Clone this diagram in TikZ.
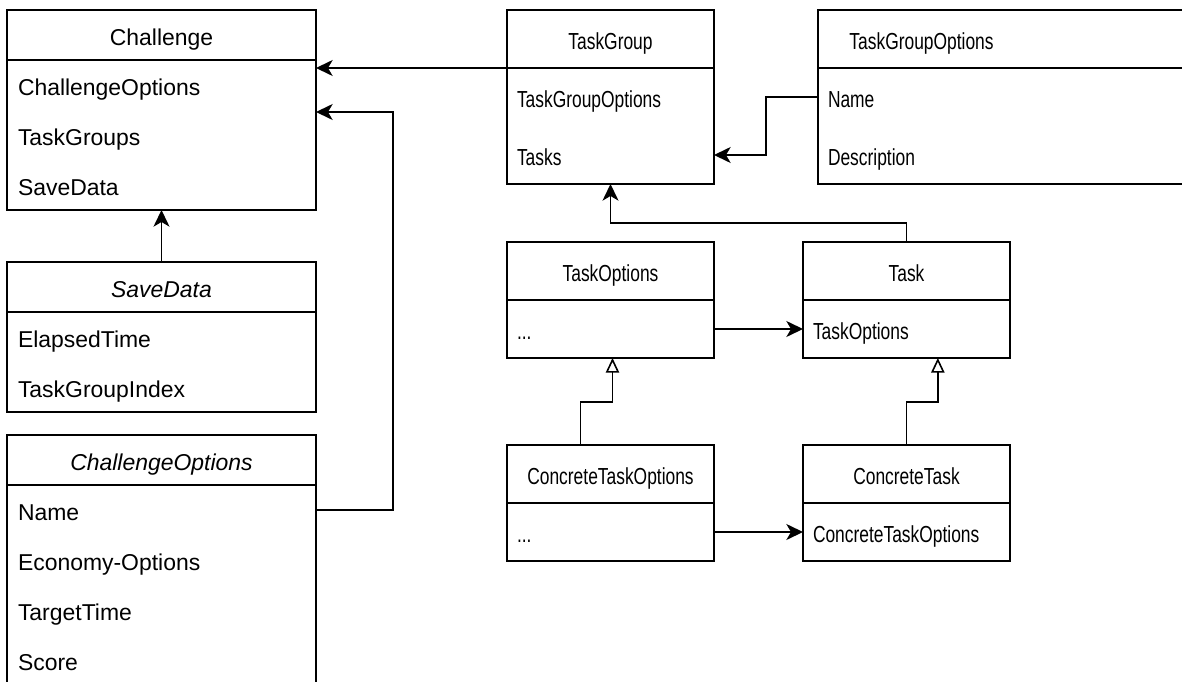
\documentclass[tikz,border=0pt]{standalone}
\usepackage{fontspec}
\setmainfont{Liberation Sans}
\newfontfamily\narrowsans[FakeStretch=0.75]{Liberation Sans}
\usetikzlibrary{arrows.meta,positioning,calc}
\newcommand{\leftfont}{\fontsize{17.2}{20}\selectfont}
\newcommand{\rightfont}{\narrowsans\fontsize{17.4}{21}\selectfont}
\tikzset{
  lhead/.style={rectangle, draw=black, line width=1.5pt, outer sep=0pt,
                minimum width=231.75pt, minimum height=37.5pt,
                text height=15pt, text depth=0pt,
                inner sep=0pt, font=\leftfont},
  lrow/.style={rectangle, text width=215.25pt, inner xsep=8.25pt,
               inner ysep=0pt, outer sep=0pt, minimum height=37.5pt,
               text height=15pt, text depth=0pt,
               align=left, font=\leftfont},
  rhead/.style={rectangle, draw=black, line width=1.5pt, outer sep=0pt,
                minimum width=155.25pt, minimum height=43.5pt,
                text height=15.5pt, text depth=0pt,
                inner sep=0pt, font=\rightfont},
  rrow/.style={rectangle, text width=140.25pt, inner xsep=7.5pt,
               inner ysep=0pt, outer sep=0pt, minimum height=43.5pt,
               text height=15.5pt, text depth=0pt,
               align=left, font=\rightfont},
  classframe/.style={draw=black, line width=1.5pt},
  assoc/.style={-{Stealth[length=12.5pt, width=12pt, inset=3.5pt]}, line width=1.2pt},
  inherit/.style={-{Triangle[open, length=11pt, width=10pt]}, line width=1.2pt},
}
\begin{document}
\begin{tikzpicture}[x=0.75pt, y=-0.75pt]
  \useasboundingbox (0,0) rectangle (1182,682);
  \clip (0,0) rectangle (1182,682);
  % left column
  \node[lhead, anchor=north west] (chal) at (7,10) {Challenge};
  \node[lrow, below=0pt of chal] (chalopt) {ChallengeOptions};
  \node[lrow, below=0pt of chalopt] (chalgrp) {TaskGroups};
  \node[lrow, below=0pt of chalgrp] (chalsave) {SaveData};
  \draw[classframe] (chal.north west) rectangle (chalsave.south east);

  \node[lhead, anchor=north west] (sd) at (7,262) {\itshape SaveData};
  \node[lrow, below=0pt of sd] (sdtime) {ElapsedTime};
  \node[lrow, below=0pt of sdtime] (sdindex) {TaskGroupIndex};
  \draw[classframe] (sd.north west) rectangle (sdindex.south east);

  \node[lhead, anchor=north west] (co) at (7,435) {\itshape ChallengeOptions};
  \node[lrow, below=0pt of co] (coname) {Name};
  \node[lrow, below=0pt of coname] (coeco) {Economy-Options};
  \node[lrow, below=0pt of coeco] (cotime) {TargetTime};
  \node[lrow, below=0pt of cotime] (coscore) {Score};
  \draw[classframe] (co.north west) rectangle (coscore.south east);

  % right part
  \node[rhead, anchor=north west] (tg) at (507,10) {TaskGroup};
  \node[rrow, below=0pt of tg] (tgopt) {TaskGroupOptions};
  \node[rrow, below=0pt of tgopt] (tgtasks) {Tasks};
  \draw[classframe] (tg.north west) rectangle (tgtasks.south east);

  \node[rhead, draw=none, anchor=north west] (tgo) at (818,10) {TaskGroupOptions};
  \node[rrow, below=0pt of tgo] (tgoname) {Name};
  \node[rrow, below=0pt of tgoname] (tgodesc) {Description};
  \draw[classframe] ([xshift=300pt]tgo.north west) -- (tgo.north west)
    -- (tgodesc.south west) -- ++(400,0);
  \draw[classframe] (tgo.south west) -- ++(400,0);

  \node[rhead, anchor=north west] (to) at (507,242) {TaskOptions};
  \node[rrow, below=0pt of to] (todots) {...};
  \draw[classframe] (to.north west) rectangle (todots.south east);

  \node[rhead, anchor=north west] (task) at (803,242) {Task};
  \node[rrow, below=0pt of task] (taskopt) {TaskOptions};
  \draw[classframe] (task.north west) rectangle (taskopt.south east);

  \node[rhead, anchor=north west] (cto) at (507,445) {ConcreteTaskOptions};
  \node[rrow, below=0pt of cto] (ctodots) {...};
  \draw[classframe] (cto.north west) rectangle (ctodots.south east);

  \node[rhead, anchor=north west] (ct) at (803,445) {ConcreteTask};
  \node[rrow, below=0pt of ct] (ctopt) {ConcreteTaskOptions};
  \draw[classframe] (ct.north west) rectangle (ctopt.south east);

  % connectors
  \coordinate (chalin) at (393,112);
  \draw[assoc] (tg.south west) -- (tg.south west -| chal.east);
  \draw[assoc] (coname.east) -| (chalin) -- (chalin -| chal.east);
  \draw[assoc] (sd.north) -- (chalsave.south);
  \draw[assoc] (tgoname.west) -- ++(-52,0) |- (tgtasks.east);
  \draw[assoc] (task.north) -- ++(0,-19) -| (tgtasks.south);
  \draw[assoc] (todots.east) -- (taskopt.west);
  \draw[assoc] (ctodots.east) -- (ctopt.west);
  \draw[inherit] ([xshift=-22.5pt]cto.north) -- ++(0,-43) -| ([xshift=1.5pt]todots.south);
  \draw[inherit] (ct.north) -- ++(0,-43) -| ([xshift=23.5pt]taskopt.south);
\end{tikzpicture}
\end{document}
